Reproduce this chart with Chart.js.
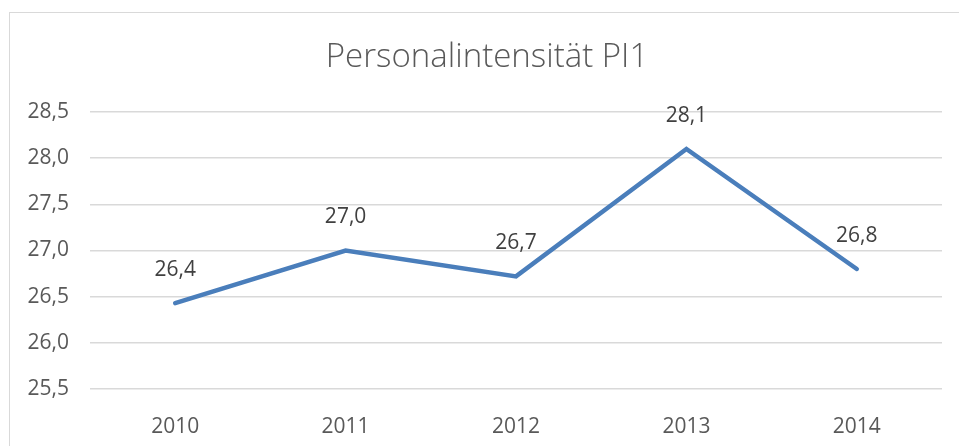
<!DOCTYPE html>
<html>
<head>
<meta charset="utf-8">
<script src="https://cdn.jsdelivr.net/npm/chart.js@4"></script>
<style>
  html, body { margin: 0; padding: 0; background: #fff; }
  #wrap { position: relative; width: 959px; height: 446px; overflow: hidden; }
  #frame { position: absolute; left: 9px; top: 12px; width: 1000px; height: 500px;
           border-left: 1px solid #d9d9d9; border-top: 1px solid #d9d9d9; }
  canvas { position: absolute; left: 0; top: 0; }
</style>
</head>
<body>
<div id="wrap">
  <div id="frame"></div>
  <canvas id="pi1Chart" width="959" height="446"></canvas>
</div>
<script>
// Chart data
const chartTitle = 'Personalintensität PI1';
const years = ['2010', '2011', '2012', '2013', '2014'];
const pi1Values = [26.43, 27.0, 26.72, 28.1, 26.8];
const yTicks = [25.5, 26.0, 26.5, 27.0, 27.5, 28.0, 28.5];

const fmt = v => v.toFixed(1).replace('.', ',');
const labelFont = '"Open Sans", Roboto, sans-serif';

// title is centred on the original (wider) chart frame, so draw it ourselves
const frameTitle = {
    id: 'frameTitle',
    afterDraw(chart) {
        const ctx = chart.ctx;
        ctx.save();
        ctx.font = '300 33px ' + labelFont;
        ctx.fillStyle = '#595959';
        ctx.textAlign = 'center';
        ctx.textBaseline = 'alphabetic';
        ctx.fillText(chartTitle, 487, 67);
        ctx.restore();
    }
};

// draws value labels above each point
const valueLabels = {
    id: 'valueLabels',
    afterDatasetsDraw(chart) {
        const ctx = chart.ctx;
        const meta = chart.getDatasetMeta(0);
        ctx.save();
        ctx.font = '21px ' + labelFont;
        ctx.fillStyle = '#404040';
        ctx.textAlign = 'center';
        ctx.textBaseline = 'middle';
        meta.data.forEach((pt, i) => {
            ctx.fillText(fmt(pi1Values[i]), pt.x, pt.y - 33);
        });
        ctx.restore();
    }
};

const ctx = document.getElementById('pi1Chart').getContext('2d');
new Chart(ctx, {
    type: 'line',
    data: {
        labels: years,
        datasets: [{
            label: chartTitle,
            data: pi1Values,
            borderColor: '#4a7ebb',
            borderWidth: 4.5,
            borderCapStyle: 'round',
            borderJoinStyle: 'miter',
            pointRadius: 0,
            fill: false,
            tension: 0
        }]
    },
    options: {
        responsive: false,
        animation: false,
        layout: { padding: { top: 112, right: 17, bottom: 0, left: 0 } },
        plugins: {
            legend: { display: false },
            tooltip: { enabled: false },
            title: { display: false }
        },
        scales: {
            x: {
                offset: true,
                grid: { display: false },
                border: { display: false },
                ticks: {
                    color: '#595959',
                    padding: 17,
                    font: { family: labelFont, size: 21 }
                },
                afterFit(scale) { scale.height = 57; }
            },
            y: {
                min: 25.5,
                max: 28.5,
                afterBuildTicks(scale) { scale.ticks = yTicks.map(v => ({ value: v })); },
                grid: { color: '#d9d9d9', lineWidth: 1.5, drawTicks: false },
                border: { display: false },
                ticks: {
                    color: '#595959',
                    padding: 21,
                    font: { family: labelFont, size: 21 },
                    callback: v => fmt(v)
                },
                afterFit(scale) { scale.width = 90; }
            }
        }
    },
    plugins: [valueLabels, frameTitle]
});
</script>
</body>
</html>
